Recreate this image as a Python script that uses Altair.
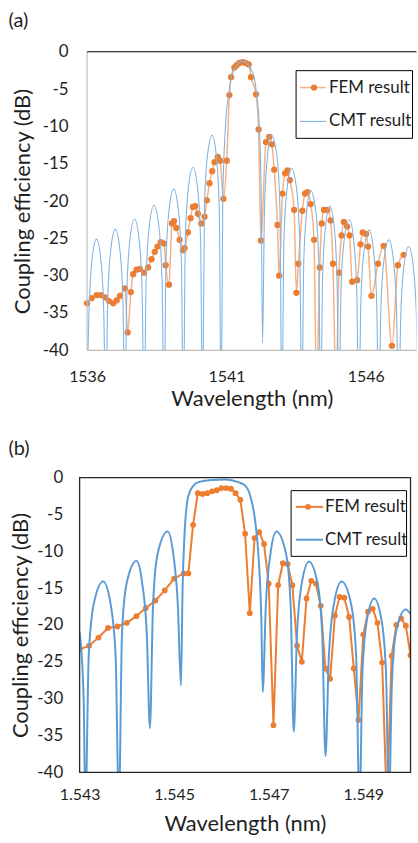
import altair as alt
import pandas as pd

FONT = "Lato"
TXT = "#1f1f1f"

# ---------------- panel (a) ----------------
a_fem = [
    (1536.000, -33.7), (1536.168, -33.0), (1536.346, -32.6), (1536.500, -32.6), (1536.643, -32.9),
    (1536.786, -33.4), (1536.939, -33.7), (1537.061, -33.3), (1537.179, -32.7), (1537.357, -31.7),
    (1537.454, -37.6), (1537.571, -32.2), (1537.654, -29.8), (1537.775, -29.2), (1537.893, -29.1),
    (1538.046, -29.6), (1538.189, -28.9), (1538.311, -27.8), (1538.429, -26.8), (1538.525, -26.1),
    (1538.643, -25.5), (1538.761, -25.7), (1538.821, -28.6), (1538.939, -31.2), (1539.046, -23.0),
    (1539.118, -22.7), (1539.204, -23.6), (1539.321, -25.2), (1539.439, -26.6), (1539.500, -26.3),
    (1539.618, -24.2), (1539.714, -22.3), (1539.796, -20.8), (1539.882, -20.7), (1539.975, -21.7),
    (1540.096, -23.0), (1540.214, -22.1), (1540.296, -19.9), (1540.393, -17.6), (1540.489, -16.0),
    (1540.571, -14.8), (1540.689, -14.1), (1540.775, -14.6), (1540.893, -19.7), (1541.011, -14.6),
    (1541.107, -5.8), (1541.168, -3.4), (1541.286, -2.1), (1541.368, -1.8), (1541.464, -1.5),
    (1541.582, -1.4), (1541.679, -1.5), (1541.796, -1.7), (1541.882, -3.4), (1542.061, -5.7),
    (1542.154, -10.4), (1542.239, -25.3), (1542.418, -12.1), (1542.536, -11.4), (1542.632, -12.4),
    (1542.714, -15.8), (1542.832, -23.2), (1542.893, -30.0), (1543.011, -19.0), (1543.107, -16.3),
    (1543.189, -15.9), (1543.275, -17.2), (1543.429, -21.2), (1543.511, -32.3), (1543.582, -28.4),
    (1543.725, -21.3), (1543.821, -19.0), (1543.904, -18.8), (1544.025, -20.4), (1544.143, -25.2),
    (1544.232, -45.0), (1544.346, -28.9), (1544.418, -23.0), (1544.500, -21.2), (1544.618, -21.2),
    (1544.739, -22.6), (1544.821, -28.4), (1544.929, -45.0), (1545.036, -29.6), (1545.132, -24.6),
    (1545.214, -22.8), (1545.332, -23.4), (1545.418, -24.6), (1545.511, -30.8), (1545.689, -30.6),
    (1545.811, -25.8), (1545.893, -24.2), (1546.011, -24.4), (1546.082, -26.1), (1546.204, -32.7),
    (1546.439, -28.4), (1546.643, -26.0), (1546.939, -39.4), (1547.154, -28.6), (1547.357, -27.2),
]

a_cmt = [
    (1536.000, -45.0),
    (1536.067, -35.1), (1536.167, -28.1), (1536.340, -25.1), (1536.500, -28.1), (1536.600, -35.1), (1536.668, -50.0),
    (1536.737, -33.8), (1536.840, -26.8), (1537.012, -23.8), (1537.185, -26.8), (1537.288, -33.8), (1537.357, -50.0),
    (1537.426, -32.4), (1537.529, -25.4), (1537.700, -22.4), (1537.874, -25.4), (1537.977, -32.4), (1538.046, -50.0),
    (1538.118, -30.6), (1538.225, -23.6), (1538.400, -20.6), (1538.582, -23.6), (1538.690, -30.6), (1538.761, -50.0),
    (1538.830, -28.4), (1538.934, -21.4), (1539.110, -18.4), (1539.281, -21.4), (1539.385, -28.4), (1539.454, -50.0),
    (1539.523, -25.5), (1539.626, -18.5), (1539.800, -15.5), (1539.971, -18.5), (1540.074, -25.5), (1540.143, -50.0),
    (1540.210, -21.2), (1540.310, -14.2), (1540.490, -11.2), (1540.644, -14.2), (1540.744, -21.2), (1540.811, -50.0),
    (1540.868, -20.0), (1540.964, -10.0), (1541.082, -5.7), (1541.204, -3.0), (1541.582, -1.25),
    (1541.964, -3.0), (1542.082, -5.7), (1542.179, -10.0), (1542.250, -20.0), (1542.296, -39.0),
    (1542.365, -21.1), (1542.469, -14.1), (1542.600, -11.1), (1542.816, -14.1), (1542.920, -21.1), (1542.989, -50.0),
    (1543.060, -25.6), (1543.168, -18.6), (1543.330, -15.6), (1543.525, -18.6), (1543.632, -25.6), (1543.704, -50.0),
    (1543.772, -28.6), (1543.874, -21.6), (1544.020, -18.6), (1544.212, -21.6), (1544.314, -28.6), (1544.382, -50.0),
    (1544.447, -30.7), (1544.546, -23.7), (1544.710, -20.7), (1544.872, -23.7), (1544.970, -30.7), (1545.036, -50.0),
    (1545.107, -32.5), (1545.215, -25.5), (1545.420, -22.5), (1545.571, -25.5), (1545.679, -32.5), (1545.750, -50.0),
    (1545.821, -33.9), (1545.929, -26.9), (1546.120, -23.9), (1546.285, -26.9), (1546.393, -33.9), (1546.464, -50.0),
    (1546.535, -35.2), (1546.643, -28.2), (1546.830, -25.2), (1547.000, -28.2), (1547.108, -35.2), (1547.179, -50.0),
    (1547.250, -36.1), (1547.358, -29.1), (1547.536, -26.1), (1547.714, -29.1), (1547.822, -36.1), (1547.893, -50.0),
]

# ---------------- panel (b) ----------------
b_fem = [
    (1.5430, -23.3), (1.5432, -22.8), (1.5434, -21.7), (1.5436, -20.4), (1.5438, -20.2),
    (1.5440, -19.7), (1.5442, -18.8), (1.5444, -17.7), (1.5446, -16.7), (1.5448, -15.3),
    (1.5450, -13.7), (1.5452, -13.0), (1.5453, -13.0), (1.5454, -6.4), (1.5455, -2.1),
    (1.5456, -2.2), (1.5457, -2.1), (1.5458, -1.85), (1.5459, -1.7), (1.5460, -1.4),
    (1.5461, -1.4), (1.5462, -1.5), (1.5463, -2.1), (1.5464, -3.0), (1.5465, -7.6),
    (1.5466, -18.4), (1.5467, -8.2), (1.5468, -7.4), (1.5469, -9.0), (1.5470, -14.4),
    (1.5471, -33.6), (1.5472, -14.6), (1.5473, -11.6), (1.5474, -11.7), (1.5475, -14.6),
    (1.5476, -22.8), (1.5477, -25.0), (1.5478, -16.4), (1.5479, -14.0), (1.5480, -14.4),
    (1.5481, -17.4), (1.5482, -25.9), (1.5483, -27.3), (1.5484, -18.7), (1.5485, -16.2),
    (1.5486, -16.3), (1.5487, -18.9), (1.5488, -25.9), (1.5489, -32.9), (1.5490, -21.3),
    (1.5491, -18.2), (1.5492, -17.8), (1.5493, -19.7), (1.5494, -25.1), (1.5495, -45.0),
    (1.5496, -24.2), (1.5497, -20.0), (1.5498, -19.1), (1.5499, -20.1), (1.5500, -24.1),
]

b_cmt = [
    (1.543000, -20.9), (1.543085, -30.0), (1.543123, -45.0),
    (1.543193, -24.1), (1.543300, -17.1), (1.543498, -14.1), (1.543654, -17.1), (1.543761, -24.1), (1.543831, -45.0),
    (1.543896, -21.3), (1.543995, -14.3), (1.544203, -11.3), (1.544323, -14.3), (1.544422, -21.3), (1.544487, -34.0),
    (1.544553, -17.3), (1.544651, -10.3), (1.544860, -7.3), (1.544980, -10.3), (1.545078, -17.3), (1.545144, -28.2),
    (1.545178, -15.0), (1.545214, -8.3), (1.545299, -2.5), (1.545405, -1.1), (1.545511, -0.6), (1.545792, -0.3),
    (1.546083, -0.25), (1.546358, -0.6), (1.546506, -1.1), (1.546612, -2.5), (1.546718, -6.1), (1.546788, -11.0),
    (1.546845, -19.6), (1.546873, -29.1),
    (1.546939, -17.3), (1.547037, -10.3), (1.547163, -7.3), (1.547365, -10.3), (1.547464, -17.3), (1.547530, -34.5),
    (1.547597, -21.4), (1.547697, -14.4), (1.547852, -11.4), (1.548034, -14.4), (1.548133, -21.4), (1.548201, -37.8),
    (1.548273, -24.1), (1.548381, -17.1), (1.548540, -14.1), (1.548741, -17.1), (1.548849, -24.1), (1.548921, -45.0),
    (1.548983, -26.4), (1.549076, -19.4), (1.549229, -16.4), (1.549388, -19.4), (1.549481, -26.4), (1.549542, -45.0),
    (1.549606, -27.9), (1.549695, -20.9), (1.549896, -17.9), (1.550000, -18.5),
]

a_xticks = [1536, 1541, 1546]
a_xrange = [1536, 1547.82]          # extent of panel (a) axis lines
b_xticks = [1.543, 1.545, 1.547, 1.549]
y_ticks = [0, -5, -10, -15, -20, -25, -30, -35, -40]
legend_labels = ["FEM result", "CMT result"]
panel_labels = ["(a)", "(b)"]


def frame(pairs):
    return pd.DataFrame(pairs, columns=["wl", "db"])


one = pd.DataFrame({"k": [0]})


def panel(fem, cmt, xdom, xticks, xfmt, W, H, st):
    xs = alt.Scale(domain=xdom, nice=False, zero=False)
    ys = alt.Scale(domain=[-40, 0], nice=False, zero=False)
    xax = alt.Axis(values=xticks, format=xfmt, title="Wavelength (nm)",
                   domain=False, labelFlush=False, labelOverlap=False, labelFontSize=16,
                   labelPadding=st["xlp"], titleX=st["xtx"], titleY=st["xty"],
                   titleBaseline="alphabetic")
    yax = alt.Axis(values=y_ticks, labelExpr="toString(datum.value)",
                   title="Coupling efficiency (dB)",
                   domain=False, labelFlush=False, labelOverlap=False, labelFontSize=17,
                   labelPadding=st["ylp"], titleX=st["ytx"], titleY=H / 2,
                   titleBaseline="alphabetic")
    X = alt.X("wl:Q", scale=xs, axis=xax)
    Y = alt.Y("db:Q", scale=ys, axis=yax)

    layers = []
    fem_line = alt.Chart(frame(fem)).mark_line(
        color=st["femLine"], strokeWidth=st["femW"], interpolate=st["femInterp"], clip=True
    ).encode(x=X, y=Y)
    fem_pts = alt.Chart(frame(fem)).mark_circle(
        color="#ED7D31", opacity=1, size=st["dot"], clip=True
    ).encode(x=X, y=Y)
    cmt_line = alt.Chart(frame(cmt)).mark_line(
        color=st["cmt"], strokeWidth=st["cmtW"], interpolate="monotone", clip=True
    ).encode(x=X, y=Y)
    layers += [fem_line, fem_pts, cmt_line]

    base = alt.Chart(one)
    if st["axisRules"]:
        x0, x1 = a_xrange
        # left axis line (grey)
        layers.append(alt.Chart(pd.DataFrame({"wl": [x0], "db": [-40], "db2": [0]})).mark_rule(
            color="#BFBFBF", strokeWidth=1.2).encode(x=X, y=Y, y2=alt.Y2("db2:Q")))
        # bottom line (grey) and top line at 0 dB (black)
        layers.append(alt.Chart(pd.DataFrame({"wl": [x0], "wl2": [x1], "db": [-40]})).mark_rule(
            color="#BFBFBF", strokeWidth=1.2).encode(x=X, x2=alt.X2("wl2:Q"), y=Y))
        layers.append(alt.Chart(pd.DataFrame({"wl": [x0], "wl2": [x1], "db": [0]})).mark_rule(
            color="#000", strokeWidth=1.2).encode(x=X, x2=alt.X2("wl2:Q"), y=Y))
    if st["frame"]:
        layers.append(base.mark_rect(fillOpacity=0, stroke="#262626", strokeWidth=1.3).encode(
            x=alt.value(0), x2=alt.value(W), y=alt.value(0), y2=alt.value(H)))

    bx = st["box"]
    layers.append(base.mark_rect(fill="white", stroke="#000", strokeWidth=1).encode(
        x=alt.value(bx[0]), x2=alt.value(bx[1]), y=alt.value(bx[2]), y2=alt.value(bx[3])))
    lx = st["lineX"]
    layers.append(base.mark_rule(color=st["femLine"], strokeWidth=st["femW"]).encode(
        x=alt.value(lx[0]), x2=alt.value(lx[1]), y=alt.value(st["femY"])))
    layers.append(base.mark_circle(color="#ED7D31", opacity=1, size=st["dot"]).encode(
        x=alt.value(st["dotX"]), y=alt.value(st["femY"])))
    layers.append(base.mark_rule(color=st["cmt"], strokeWidth=st["cmtW"]).encode(
        x=alt.value(lx[0]), x2=alt.value(lx[1]), y=alt.value(st["cmtY"])))
    for lab, yy in zip(legend_labels, [st["femY"], st["cmtY"]]):
        layers.append(base.mark_text(align="left", baseline="middle", font=FONT, fontSize=17, color=TXT).encode(
            x=alt.value(st["textX"]), y=alt.value(yy), text=alt.value(lab)))
    layers.append(base.mark_text(align="left", baseline="middle", font=FONT, fontSize=20, color=TXT).encode(
        x=alt.value(st["labX"]), y=alt.value(st["labY"]), text=alt.value(st["label"])))
    return alt.layer(*layers).properties(width=W, height=H)


# panel (a): plot frame starts at 79.5 px like panel (b); 1536 nm sits at 87 px
st_a = dict(xlp=18, xtx=173, xty=55.7, ylp=11.5, ytx=-50.5,
            femLine="#F4B183", femW=1.5, femInterp="monotone", dot=40,
            cmt="#82B4E2", cmtW=1.1, axisRules=True, frame=False,
            box=(217.5, 334.5, 19, 87), lineX=(221.5, 247.5), dotX=235.5, femY=36, cmtY=70, textX=250.5,
            labX=-71.5, labY=-30.5, label=panel_labels[0])
st_b = dict(xlp=14, xtx=166, xty=58.7, ylp=17, ytx=-52.3,
            femLine="#ED7D31", femW=2, femInterp="linear", dot=34,
            cmt="#5B9BD5", cmtW=2, axisRules=False, frame=True,
            box=(212.5, 328.5, 13, 79), lineX=(217.5, 244.5), dotX=229.5, femY=29.3, cmtY=62.3, textX=246.5,
            labX=-71.5, labY=-28.5, label=panel_labels[1])

pa = panel(a_fem, a_cmt, [1535.732, 1547.82], a_xticks, "d", 338.5, 300, st_a)
pb = panel(b_fem, b_cmt, [1.543, 1.55], b_xticks, ".3f", 332.5, 296, st_b)

chart = alt.vconcat(pa, pb, spacing=29).properties(
    padding={"left": 8, "top": 9, "right": 0, "bottom": 0},
    background="white",
).configure_view(strokeWidth=0).configure_axis(
    grid=False, ticks=False, labelFont=FONT, titleFont=FONT, labelColor=TXT, titleColor=TXT,
    titleFontWeight="normal", titleFontSize=22,
)

chart.save("out.html", embed_options={"renderer": "svg", "actions": False})
